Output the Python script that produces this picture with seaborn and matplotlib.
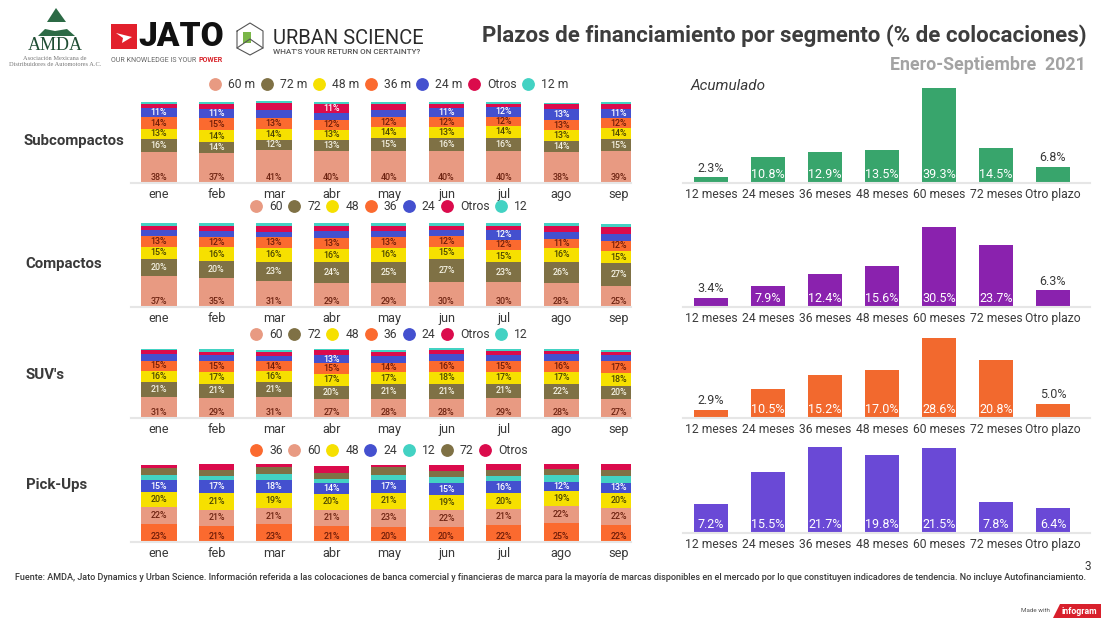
import numpy as np
import matplotlib
matplotlib.use("Agg")
import matplotlib.pyplot as plt
from matplotlib.lines import Line2D
from matplotlib.patches import Polygon, Rectangle
import seaborn as sns

sns.set_theme(style="white")
plt.rcParams['font.family'] = ['Roboto', 'DejaVu Sans']

meses = ["ene", "feb", "mar", "abr", "may", "jun", "jul", "ago", "sep"]
plazos = ["12 meses", "24 meses", "36 meses", "48 meses", "60 meses", "72 meses", "Otro plazo"]

# Subcompactos
sub_60 = [38, 37, 41, 40, 40, 40, 40, 38, 39]
sub_72 = [16, 14, 12, 13, 15, 16, 16, 14, 15]
sub_48 = [13, 14, 14, 13, 14, 13, 14, 13, 14]
sub_36 = [14, 15, 13, 12, 12, 12, 12, 13, 12]
sub_24 = [11, 11, 10, 9, 9, 11, 12, 13, 11]
sub_otros = [6, 7, 9, 11, 8, 6, 4, 6, 7]
sub_12 = [2, 2, 2, 2, 2, 2, 2, 2, 2]
sub_acum = [2.3, 10.8, 12.9, 13.5, 39.3, 14.5, 6.8]

# Compactos
com_60 = [37, 35, 31, 29, 29, 30, 30, 28, 25]
com_72 = [20, 20, 23, 24, 25, 27, 23, 26, 27]
com_48 = [15, 16, 16, 16, 16, 15, 15, 16, 15]
com_36 = [13, 12, 13, 13, 13, 12, 12, 11, 12]
com_24 = [7, 7, 6, 8, 8, 8, 12, 8, 8]
com_otros = [5, 7, 8, 7, 6, 5, 5, 7, 8]
com_12 = [3, 3, 3, 3, 3, 3, 3, 4, 4]
com_acum = [3.4, 7.9, 12.4, 15.6, 30.5, 23.7, 6.3]

# SUV's
suv_60 = [31, 29, 31, 27, 28, 28, 29, 28, 27]
suv_72 = [21, 21, 21, 20, 21, 21, 21, 22, 20]
suv_48 = [16, 17, 16, 17, 17, 18, 17, 17, 18]
suv_36 = [15, 15, 14, 15, 14, 16, 15, 16, 17]
suv_24 = [10, 10, 8, 13, 10, 10, 10, 10, 10]
suv_otros = [5, 4, 5, 6, 6, 5, 5, 4, 4]
suv_12 = [2, 4, 4, 2, 2, 3, 3, 3, 3]
suv_acum = [2.9, 10.5, 15.2, 17.0, 28.6, 20.8, 5.0]

# Pick-Ups
pick_36 = [23, 21, 23, 21, 20, 20, 22, 25, 22]
pick_60 = [22, 21, 21, 21, 23, 22, 21, 22, 22]
pick_48 = [20, 21, 19, 20, 21, 19, 20, 19, 20]
pick_24 = [15, 17, 18, 14, 17, 15, 16, 12, 13]
pick_12 = [7, 6, 7, 6, 6, 8, 7, 9, 9]
pick_72 = [9, 8, 9, 8, 10, 8, 8, 8, 7]
pick_otros = [4, 7, 4, 9, 3, 8, 7, 6, 8]
pick_acum = [7.2, 15.5, 21.7, 19.8, 21.5, 7.8, 6.4]

colores = {"60": "#e89a82", "72": "#7f7145", "48": "#f6e000", "36": "#fb6a2f",
           "24": "#4450cf", "Otros": "#db0b4c", "12": "#43d2c3"}
color_etiqueta = {"60": "#6e2412", "72": "#f4f1e2", "48": "#4a4400", "36": "#6e1c08",
                  "24": "#ffffff", "Otros": "#ffffff", "12": "#333333"}
gris = "#3a3a3a"

W, H = 1117, 626
fig = plt.figure(figsize=(W / 100, H / 100), dpi=100, facecolor="white")


def caja(x0, x1, y_top, y_base):
    return fig.add_axes([x0 / W, 1 - y_base / H, (x1 - x0) / W, (y_base - y_top) / H])


def limpiar(ax, tam):
    sns.despine(ax=ax, left=True)
    ax.spines["bottom"].set_color("#e6e6e6")
    ax.spines["bottom"].set_linewidth(1.5)
    ax.set_yticks([])
    ax.set_xlabel("")
    ax.set_ylabel("")
    ax.patch.set_alpha(0)
    ax.tick_params(axis="x", length=0, pad=3.5, labelsize=tam, labelcolor=gris)


def apilado(y_base, alto, series, textos, leg_y):
    # alto = pixeles que ocupa el 100 %
    ax = caja(131, 631, y_base - alto * 1.05, y_base)
    acum = np.zeros(len(meses))
    for i, (clave, vals) in enumerate(series):
        sns.barplot(x=meses, y=vals, bottom=acum, color=colores[clave], width=0.61,
                    saturation=1, errorbar=None, linewidth=0, ax=ax)
        for j, v in enumerate(vals):
            if v < 11:
                continue
            if i == 0:
                ty = acum[j] + 5.6 * 100 / alto
            else:
                ty = acum[j] + v / 2
            ax.text(j, ty, "%d%%" % v, ha="center", va="center", fontsize=6.4,
                    fontweight="medium", color=color_etiqueta[clave])
        acum = acum + np.array(vals)
    ax.set_xlim(-0.487, 8.21)
    ax.set_ylim(0, 105)
    limpiar(ax, 9.2)
    handles = [Line2D([], [], ls="", marker="o", ms=8.2, color=colores[s[0]]) for s in series]
    fig.legend(handles, textos, ncol=7, frameon=False, loc="center",
               bbox_to_anchor=(389 / W, 1 - leg_y / H), fontsize=8.7, labelcolor=gris,
               handlelength=1, handletextpad=0.58, columnspacing=0.45, borderpad=0)


def acumulado(y_top, y_base, vals, color):
    ax = caja(683, 1090, y_top, y_base)
    sns.barplot(x=plazos, y=vals, color=color, width=0.61, saturation=1, errorbar=None,
                linewidth=0, ax=ax)
    tope = max(vals)
    for j, v in enumerate(vals):
        if v > 0.22 * tope:
            ax.annotate("%.1f%%" % v, (j, 0), xytext=(0, 1.2), textcoords="offset points",
                        ha="center", va="bottom", fontsize=9, color="white")
        else:
            ax.annotate("%.1f%%" % v, (j, v), xytext=(0, 2), textcoords="offset points",
                        ha="center", va="bottom", fontsize=9, color=gris)
    ax.set_xlim(-0.491, 6.65)
    ax.set_ylim(0, tope)
    limpiar(ax, 8.7)


apilado(183, 81, [("60", sub_60), ("72", sub_72), ("48", sub_48), ("36", sub_36),
                  ("24", sub_24), ("Otros", sub_otros), ("12", sub_12)],
        ["60 m", "72 m", "48 m", "36 m", "24 m", "Otros", "12 m"], 85)
apilado(307, 84, [("60", com_60), ("72", com_72), ("48", com_48), ("36", com_36),
                  ("24", com_24), ("Otros", com_otros), ("12", com_12)],
        ["60", "72", "48", "36", "24", "Otros", "12"], 207)
apilado(418, 69, [("60", suv_60), ("72", suv_72), ("48", suv_48), ("36", suv_36),
                  ("24", suv_24), ("Otros", suv_otros), ("12", suv_12)],
        ["60", "72", "48", "36", "24", "Otros", "12"], 335)
apilado(542, 77, [("36", pick_36), ("60", pick_60), ("48", pick_48), ("24", pick_24),
                  ("12", pick_12), ("72", pick_72), ("Otros", pick_otros)],
        ["36", "60", "48", "24", "12", "72", "Otros"], 451)

acumulado(88, 183, sub_acum, "#38a56c")
acumulado(227, 307, com_acum, "#8a22ae")
acumulado(338, 418, suv_acum, "#f2692e")
acumulado(447, 533, pick_acum, "#6a49d6")

# capa de textos y logos en pixeles
capa = fig.add_axes([0, 0, 1, 1], zorder=-1)
capa.set_xlim(0, W)
capa.set_ylim(H, 0)
capa.axis("off")

capa.text(1087, 36, "Plazos de financiamiento por segmento (% de colocaciones)", ha="right", va="center",
          fontsize=16.05, fontweight="bold", color="#3d3d3d")
capa.text(1086, 65.5, "Enero-Septiembre  2021", ha="right", va="center", fontsize=12.8,
          fontweight="bold", color="#a3a3a3")
capa.text(691, 86, "Acumulado", ha="left", va="center", fontsize=11, style="italic", color=gris)

capa.text(24, 141, "Subcompactos", ha="left", va="center", fontsize=10.8, fontweight="bold", color=gris)
capa.text(25, 264, "Compactos", ha="left", va="center", fontsize=10.8, fontweight="bold", color=gris)
capa.text(25, 375, "SUV's", ha="left", va="center", fontsize=10.8, fontweight="bold", color=gris)
capa.text(26, 485, "Pick-Ups", ha="left", va="center", fontsize=10.8, fontweight="bold", color=gris)

capa.text(15, 578, "Fuente: AMDA, Jato Dynamics y Urban Science. Información referida a las colocaciones de banca "
          "comercial y financieras de marca para la mayoría de marcas disponibles en el mercado por lo que "
          "constituyen indicadores de tendencia. No incluye Autofinanciamiento.",
          ha="left", va="center", fontsize=6.44, fontweight="medium", color=gris)
capa.text(1088, 567, "3", ha="center", va="center", fontsize=8.5, color=gris)

# logo AMDA
capa.add_patch(Polygon([[47, 22], [56, 8], [66, 22]], color="#2c6a45", lw=0))
capa.add_patch(Polygon([[38, 36], [45, 29], [55, 31], [67, 29], [75, 36]], color="#2c6a45", lw=0))
capa.text(55, 46, "AMDA", ha="center", va="center", fontsize=13, family="Liberation Serif", color="#1f4d33")
capa.text(55, 58, "Asociación Mexicana de", ha="center", va="center", fontsize=4.6,
          family="Liberation Serif", color="#777777")
capa.text(55, 65, "Distribuidores de Automotores A.C.", ha="center", va="center", fontsize=4.6,
          family="Liberation Serif", color="#777777")

# logo JATO
capa.add_patch(Rectangle((111, 24), 26, 25, color="#e2202c", lw=0))
capa.add_patch(Polygon([[116, 33], [132, 37], [122, 43], [123, 38]], color="white", lw=0))
capa.text(181, 37, "JATO", ha="center", va="center", fontsize=24, fontweight="black", color="#111111")
capa.text(111, 60, "OUR KNOWLEDGE IS YOUR", ha="left", va="center", fontsize=5.1, color="#666666")
capa.text(223, 60, "POWER", ha="right", va="center", fontsize=5.1, fontweight="bold", color="#d8232a")

# logo Urban Science
capa.plot([237, 250, 263, 263, 250, 237, 237], [31, 23, 31, 48, 55, 48, 31], color="#555555", lw=0.8)
capa.plot([237, 250, 263], [48, 39, 48], color="#555555", lw=0.8)
capa.add_patch(Rectangle((243, 32), 8, 11, color="#7ab648", lw=0))
capa.text(273, 39, "URBAN SCIENCE", ha="left", va="center", fontsize=14.5, color="#2a2a2a")
capa.text(273, 52, "WHAT'S YOUR RETURN ON CERTAINTY?", ha="left", va="center", fontsize=5.9,
          fontweight="medium", color="#555555")

# marca infogram
capa.text(1050, 610, "Made with", ha="right", va="center", fontsize=4.5, color="#555555")
capa.add_patch(Polygon([[1053, 618], [1060, 604], [1101, 604], [1101, 618]], color="#d8202c", lw=0))
capa.text(1079, 611, "infogram", ha="center", va="center", fontsize=6.3, fontweight="bold", color="white")

fig.savefig("out.png", dpi=100, facecolor="white")
